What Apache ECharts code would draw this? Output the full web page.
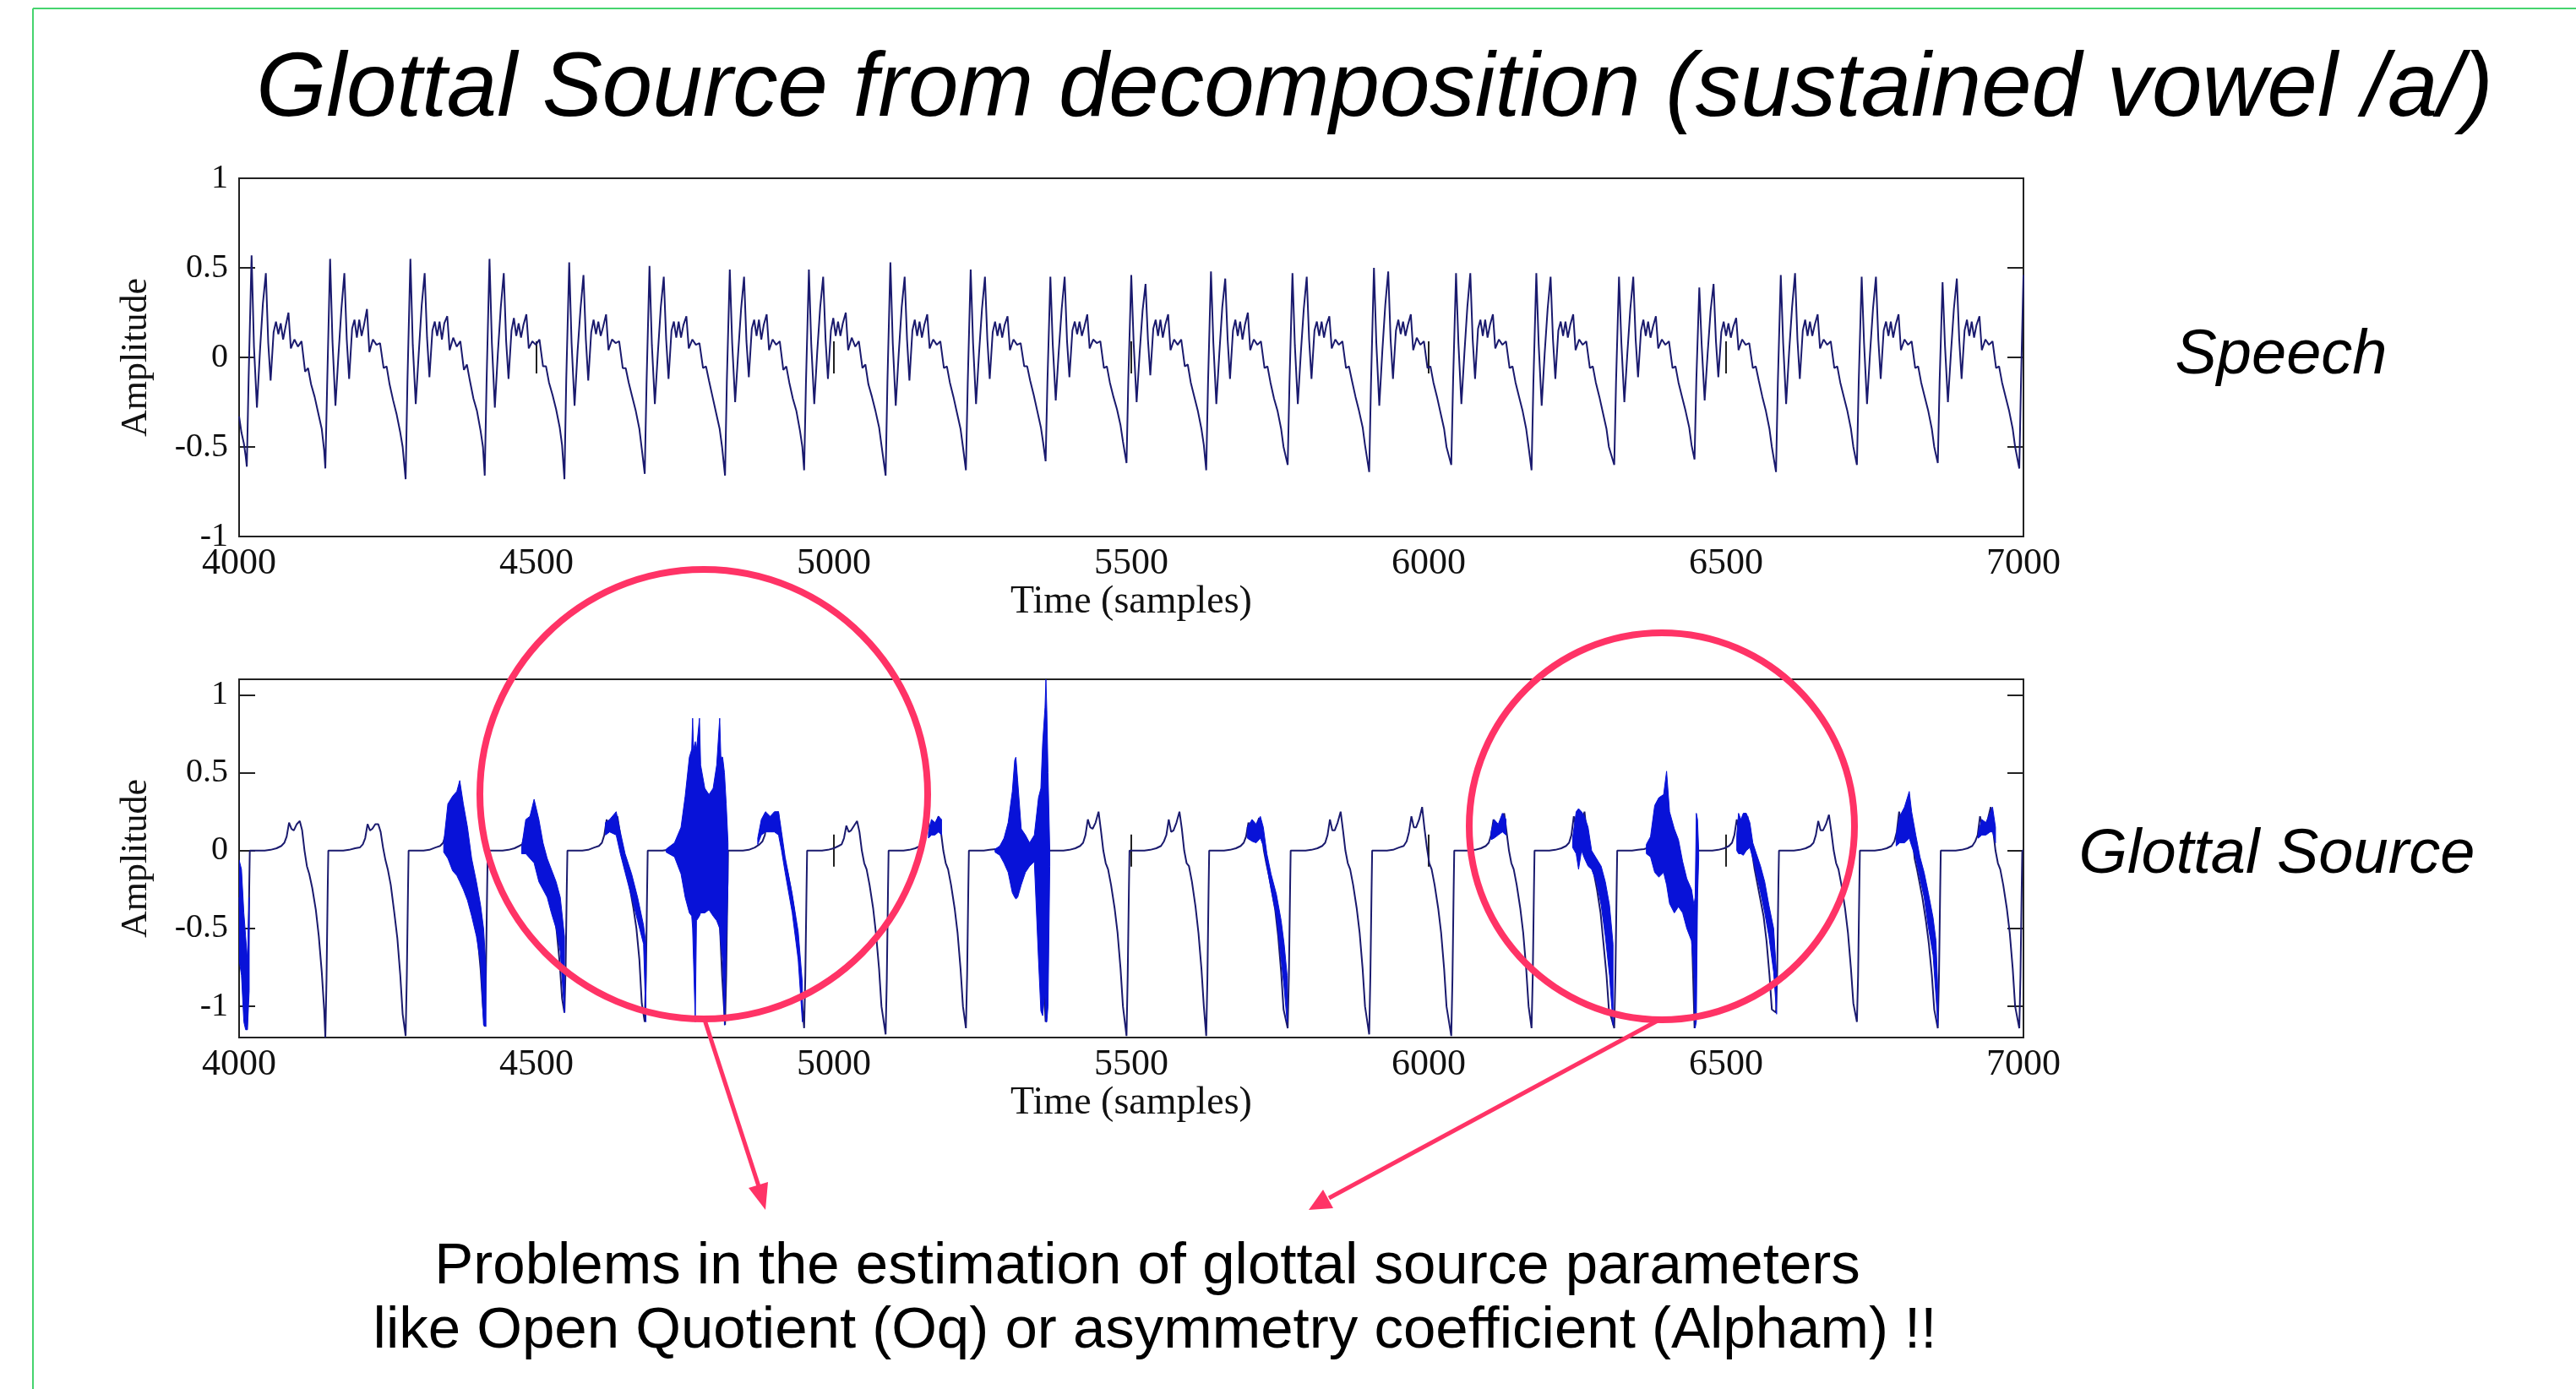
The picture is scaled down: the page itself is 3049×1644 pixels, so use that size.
<!DOCTYPE html>
<html>
<head>
<meta charset="UTF-8">
<title>Glottal Source from decomposition</title>
<script src="https://cdn.jsdelivr.net/npm/echarts@6/dist/echarts.min.js"></script>
<style>
	html, body { margin: 0; padding: 0; background: #fff; }
	#main { width: 3049px; height: 1644px; }
</style>
</head>
<body>
<div id="main"></div>
<script>
	// glottal closure instants (speech minima)
	var gciSamples = [4013,4145,4280,4413,4547,4682,4817,4950,5087,5222,5356,5492,5626,5763,5900,6038,6173,6312,6447,6584,6720,6856];

	// speech: sample offsets after each closure where values were read, one row per cycle
	var speechOffsets = [0,3,8,12,17,22,27,32,36,40,45,49,53,57,61,65,70,74,80,86,92,98,103,108,114,120,126,130];
	var speechRows = [
		[-0.61,-0.12,0.57,0.06,-0.28,0.03,0.3,0.47,0.08,-0.13,0.14,0.2,0.13,0.19,0.1,0.17,0.25,0.05,0.1,0.06,0.09,-0.08,-0.06,-0.15,-0.22,-0.31,-0.4,-0.52],
		[-0.62,-0.16,0.55,0.09,-0.27,0.01,0.27,0.47,0.1,-0.12,0.16,0.21,0.11,0.21,0.12,0.18,0.27,0.03,0.1,0.07,0.08,-0.06,-0.05,-0.15,-0.24,-0.32,-0.42,-0.5],
		[-0.68,-0.14,0.55,0.07,-0.26,0.02,0.29,0.47,0.11,-0.11,0.15,0.2,0.12,0.2,0.1,0.19,0.23,0.04,0.11,0.06,0.09,-0.07,-0.04,-0.13,-0.23,-0.3,-0.41,-0.5],
		[-0.66,-0.15,0.55,0.08,-0.28,0.02,0.28,0.47,0.09,-0.12,0.15,0.22,0.12,0.19,0.11,0.18,0.24,0.05,0.09,0.07,0.1,-0.05,-0.05,-0.14,-0.21,-0.29,-0.39,-0.49],
		[-0.68,-0.13,0.53,0.08,-0.27,0.03,0.27,0.46,0.1,-0.13,0.14,0.21,0.13,0.2,0.12,0.17,0.24,0.04,0.1,0.08,0.09,-0.06,-0.06,-0.14,-0.22,-0.3,-0.4,-0.51],
		[-0.65,-0.15,0.51,0.07,-0.26,0.02,0.28,0.45,0.1,-0.12,0.15,0.2,0.11,0.2,0.11,0.18,0.23,0.05,0.1,0.07,0.08,-0.06,-0.05,-0.13,-0.22,-0.31,-0.4,-0.5],
		[-0.66,-0.14,0.49,0.08,-0.25,0.02,0.27,0.45,0.09,-0.11,0.16,0.21,0.12,0.21,0.1,0.18,0.24,0.04,0.1,0.07,0.09,-0.07,-0.05,-0.14,-0.23,-0.3,-0.41,-0.5],
		[-0.63,-0.15,0.49,0.07,-0.26,0.03,0.28,0.45,0.1,-0.12,0.15,0.22,0.12,0.2,0.12,0.19,0.25,0.04,0.11,0.06,0.09,-0.06,-0.04,-0.15,-0.22,-0.3,-0.39,-0.49],
		[-0.66,-0.14,0.53,0.08,-0.27,0.02,0.28,0.45,0.1,-0.13,0.15,0.21,0.12,0.2,0.11,0.18,0.24,0.05,0.1,0.07,0.09,-0.06,-0.05,-0.14,-0.22,-0.31,-0.4,-0.5],
		[-0.63,-0.15,0.49,0.08,-0.26,0.02,0.27,0.45,0.1,-0.12,0.14,0.2,0.12,0.19,0.11,0.18,0.23,0.04,0.1,0.07,0.08,-0.05,-0.05,-0.13,-0.21,-0.3,-0.39,-0.48],
		[-0.58,-0.14,0.45,0.07,-0.24,0.03,0.27,0.45,0.09,-0.11,0.15,0.2,0.13,0.2,0.12,0.17,0.24,0.05,0.1,0.08,0.09,-0.06,-0.05,-0.14,-0.22,-0.29,-0.38,-0.47],
		[-0.59,-0.13,0.46,0.08,-0.25,0.02,0.26,0.41,0.1,-0.1,0.16,0.21,0.12,0.21,0.11,0.18,0.24,0.04,0.1,0.07,0.1,-0.05,-0.04,-0.14,-0.22,-0.3,-0.4,-0.49],
		[-0.63,-0.15,0.48,0.08,-0.26,0.02,0.28,0.44,0.1,-0.12,0.15,0.21,0.12,0.2,0.1,0.18,0.25,0.04,0.1,0.07,0.09,-0.06,-0.05,-0.14,-0.23,-0.3,-0.4,-0.5],
		[-0.6,-0.14,0.47,0.07,-0.26,0.02,0.27,0.45,0.1,-0.12,0.15,0.2,0.12,0.2,0.11,0.18,0.23,0.05,0.1,0.07,0.09,-0.06,-0.05,-0.13,-0.22,-0.3,-0.39,-0.49],
		[-0.64,-0.15,0.5,0.08,-0.27,0.03,0.29,0.48,0.1,-0.12,0.15,0.21,0.13,0.2,0.12,0.18,0.24,0.04,0.11,0.07,0.09,-0.06,-0.05,-0.14,-0.22,-0.31,-0.4,-0.5],
		[-0.6,-0.14,0.47,0.08,-0.26,0.02,0.28,0.47,0.1,-0.12,0.16,0.21,0.12,0.21,0.11,0.18,0.24,0.05,0.1,0.07,0.09,-0.06,-0.05,-0.14,-0.22,-0.3,-0.4,-0.5],
		[-0.63,-0.15,0.47,0.07,-0.27,0.02,0.27,0.45,0.1,-0.12,0.15,0.2,0.12,0.2,0.11,0.18,0.24,0.04,0.1,0.07,0.09,-0.06,-0.05,-0.14,-0.22,-0.31,-0.4,-0.5],
		[-0.6,-0.14,0.45,0.08,-0.25,0.02,0.27,0.45,0.1,-0.11,0.15,0.21,0.12,0.2,0.11,0.17,0.23,0.05,0.1,0.07,0.09,-0.06,-0.05,-0.14,-0.22,-0.3,-0.39,-0.49],
		[-0.57,-0.13,0.39,0.07,-0.24,0.02,0.26,0.41,0.09,-0.11,0.14,0.2,0.12,0.19,0.11,0.17,0.22,0.04,0.1,0.07,0.08,-0.06,-0.05,-0.13,-0.22,-0.3,-0.4,-0.5],
		[-0.64,-0.15,0.46,0.08,-0.26,0.03,0.28,0.47,0.1,-0.12,0.15,0.21,0.12,0.2,0.12,0.18,0.24,0.05,0.1,0.07,0.09,-0.06,-0.05,-0.14,-0.22,-0.3,-0.4,-0.5],
		[-0.6,-0.14,0.45,0.08,-0.26,0.02,0.27,0.45,0.1,-0.12,0.15,0.2,0.12,0.2,0.11,0.18,0.24,0.04,0.1,0.07,0.09,-0.06,-0.05,-0.14,-0.22,-0.3,-0.4,-0.5],
		[-0.59,-0.14,0.42,0.07,-0.25,0.02,0.27,0.44,0.1,-0.12,0.15,0.21,0.12,0.2,0.11,0.18,0.23,0.04,0.1,0.07,0.09,-0.06,-0.05,-0.14,-0.22,-0.3,-0.4,-0.5]
	];
	var speechHead = [[4000,-0.33],[4004,-0.42],[4008,-0.48],[4011,-0.55]];
	var speechTail = [[6993,-0.62],[6996,-0.12],[7000,0.46]];

	// glottal source: same closures, its own read offsets
	var glotOffsets = [0,2,4,5,30,40,50,58,63,67,71,75,79,84,89,93,97,101,105,110,116,121,126,130];
	var glotRows = [
		[-1.15,-0.8,-0.25,0,0,0.005,0.015,0.03,0.05,0.09,0.18,0.14,0.13,0.17,0.19,0.13,0.0,-0.1,-0.15,-0.24,-0.38,-0.55,-0.78,-1.02],
		[-1.2,-0.82,-0.24,0,0,0.005,0.015,0.02,0.04,0.08,0.17,0.13,0.14,0.17,0.17,0.12,0.02,-0.06,-0.12,-0.22,-0.4,-0.56,-0.8,-1.05],
		[-1.19,-0.8,-0.25,0,0,0.005,0.02,0.03,0.05,0.1,0.2,0.15,0.12,0.18,0.22,0.1,-0.02,-0.1,-0.15,-0.25,-0.38,-0.55,-0.76,-1.0],
		[-1.13,-0.78,-0.25,0,0,0.005,0.015,0.03,0.04,0.1,0.18,0.12,0.12,0.15,0.2,0.1,-0.02,-0.08,-0.15,-0.22,-0.36,-0.52,-0.72,-0.95],
		[-1.04,-0.75,-0.22,0,0,0.005,0.02,0.03,0.05,0.1,0.2,0.14,0.13,0.18,0.22,0.12,0.0,-0.08,-0.13,-0.24,-0.37,-0.5,-0.7,-0.98],
		[-1.1,-0.8,-0.25,0,0,0.005,0.01,0.0,0.02,-0.02,0.03,-0.03,0.05,-0.05,0.04,-0.04,0.0,-0.05,-0.1,-0.15,-0.2,-0.3,-0.45,-0.8],
		[-1.12,-0.8,-0.25,0,0,0.005,0.02,0.04,0.06,0.1,0.22,0.15,0.14,0.18,0.25,0.12,0.0,-0.08,-0.14,-0.24,-0.38,-0.55,-0.76,-1.0],
		[-1.14,-0.8,-0.25,0,0,0.005,0.015,0.03,0.04,0.08,0.16,0.12,0.13,0.16,0.19,0.12,0.0,-0.08,-0.12,-0.22,-0.37,-0.54,-0.76,-1.0],
		[-1.18,-0.82,-0.25,0,0,0.005,0.015,0.03,0.05,0.09,0.2,0.13,0.12,0.17,0.22,0.12,0.0,-0.08,-0.12,-0.22,-0.37,-0.53,-0.76,-1.0],
		[-1.14,-0.8,-0.25,0,0,0.005,0.01,0.0,0.05,-0.05,0.1,-0.1,0.05,-0.05,0.02,-0.02,0.05,-0.1,0.0,0.0,0.0,-0.2,-0.5,-0.8],
		[-1.1,-0.8,-0.25,0,0,0.005,0.015,0.03,0.05,0.1,0.2,0.15,0.14,0.18,0.25,0.13,0.0,-0.08,-0.12,-0.22,-0.37,-0.53,-0.76,-1.0],
		[-1.19,-0.8,-0.25,0,0,0.005,0.015,0.03,0.06,0.1,0.2,0.12,0.13,0.18,0.25,0.14,0.0,-0.08,-0.1,-0.2,-0.36,-0.53,-0.76,-1.0],
		[-1.19,-0.82,-0.25,0,0,0.005,0.015,0.03,0.05,0.09,0.18,0.12,0.12,0.16,0.21,0.12,0.0,-0.08,-0.15,-0.25,-0.38,-0.55,-0.78,-1.02],
		[-1.14,-0.8,-0.25,0,0,0.005,0.015,0.03,0.05,0.1,0.2,0.13,0.13,0.18,0.25,0.13,0.0,-0.08,-0.12,-0.22,-0.37,-0.53,-0.76,-1.0],
		[-1.18,-0.8,-0.25,0,0,0.005,0.02,0.03,0.06,0.12,0.22,0.15,0.15,0.2,0.28,0.14,0.02,-0.08,-0.12,-0.22,-0.37,-0.53,-0.76,-1.0],
		[-1.19,-0.82,-0.25,0,0,0.005,0.015,0.03,0.05,0.1,0.2,0.13,0.14,0.18,0.24,0.12,0.0,-0.08,-0.12,-0.22,-0.37,-0.53,-0.76,-1.0],
		[-1.14,-0.8,-0.25,0,0,0.005,0.015,0.03,0.05,0.1,0.22,0.15,0.14,0.18,0.25,0.1,-0.05,-0.1,-0.15,-0.25,-0.4,-0.6,-0.8,-1.02],
		[-1.14,-0.8,-0.25,0,0,0.005,0.01,0.02,0.03,0.05,0.05,0.08,0.05,0.1,0.05,0.0,-0.05,-0.1,-0.12,-0.15,-0.25,-0.32,-0.38,-0.45],
		[-1.14,-0.8,-0.25,0,0,0.005,0.015,0.03,0.05,0.1,0.2,0.12,0.14,0.18,0.22,0.1,-0.02,-0.12,-0.2,-0.3,-0.42,-0.58,-0.8,-1.02],
		[-1.04,-0.78,-0.22,0,0,0.005,0.015,0.03,0.05,0.1,0.19,0.13,0.13,0.17,0.23,0.12,0.0,-0.08,-0.12,-0.22,-0.37,-0.53,-0.76,-0.98],
		[-1.1,-0.8,-0.25,0,0,0.005,0.015,0.03,0.06,0.12,0.25,0.18,0.2,0.3,0.25,0.1,-0.05,-0.12,-0.2,-0.3,-0.45,-0.6,-0.8,-1.02],
		[-1.14,-0.8,-0.25,0,0,0.005,0.015,0.03,0.06,0.1,0.22,0.15,0.15,0.2,0.28,0.13,0.0,-0.08,-0.12,-0.22,-0.37,-0.53,-0.76,-1.0]
	];
	var glotHead = [[4000,-0.3],[4004,-0.55],[4008,-0.85],[4011,-1.05]];
	var glotTail = [[6993,-1.14],[6995,-0.8],[6997,-0.25],[6998,0],[7000,0]];

	// dense high-frequency bursts in the glottal source: [sample, upper, lower]
	var noiseBands = [
		[[4000,-0.06,-0.7],[4004,-0.12,-0.8],[4008,-0.4,-1.1],[4011,-0.55,-1.15],[4014,-0.7,-1.15],[4017,-0.3,-0.9]],
		[[4344,0.05,-0.01],[4351,0.3,-0.05],[4359,0.35,-0.13],[4366,0.38,-0.16],[4371,0.45,-0.2],[4377,0.3,-0.25],[4384,0.15,-0.32],[4391,-0.05,-0.42],[4399,-0.2,-0.55],[4406,-0.35,-0.72],[4411,-0.5,-1.12],[4415,-0.75,-1.13]],
		[[4475,0.02,-0.02],[4482,0.2,-0.02],[4489,0.22,-0.05],[4496,0.33,-0.08],[4504,0.2,-0.2],[4511,0.05,-0.25],[4518,-0.05,-0.3],[4525,-0.12,-0.4],[4533,-0.2,-0.5],[4540,-0.3,-0.65],[4547,-0.55,-1.04]],
		[[4616,0.18,0.1],[4623,0.2,0.12],[4634,0.25,0.1],[4641,0.12,-0.02],[4649,-0.02,-0.14],[4660,-0.15,-0.3],[4670,-0.3,-0.45],[4680,-0.48,-0.6],[4684,-0.6,-1.1]],
		[[4718,0.01,-0.01],[4732,0.05,-0.04],[4743,0.15,-0.15],[4750,0.35,-0.3],[4757,0.6,-0.4],[4761,0.65,-0.42],[4762.5,0.85,-0.5],[4764,0.65,-0.7],[4767,0.7,-1.1],[4769,0.65,-0.45],[4774,0.85,-0.42],[4776,0.55,-0.4],[4783,0.4,-0.4],[4790,0.36,-0.38],[4797,0.4,-0.42],[4803,0.55,-0.45],[4808,0.85,-0.5],[4810,0.6,-0.6],[4813,0.6,-0.7],[4816,0.5,-1.12],[4819,0.3,-0.6],[4822,0.05,-0.2]],
		[[4872,0.08,0.04],[4878,0.2,0.1],[4885,0.25,0.12],[4893,0.22,0.12],[4900,0.25,0.12],[4907,0.25,0.1],[4912,0.12,0.0],[4918,-0.04,-0.14],[4930,-0.28,-0.4],[4940,-0.52,-0.7],[4947,-0.85,-1.1]],
		[[5159,0.12,0.08],[5164,0.2,0.1],[5170,0.18,0.1],[5176,0.22,0.12],[5181,0.2,0.1]],
		[[5271,0.01,-0.01],[5279,0.03,-0.03],[5286,0.08,-0.08],[5293,0.18,-0.14],[5300,0.38,-0.27],[5304,0.58,-0.3],[5306,0.6,-0.31],[5309,0.45,-0.3],[5315,0.14,-0.22],[5322,0.1,-0.14],[5329,0.05,-0.1],[5337,0.1,-0.07],[5344,0.34,-0.7],[5348,0.4,-1.03],[5351,0.69,-1.06],[5355,0.92,-0.9],[5356.5,1.1,-1.1],[5358,0.9,-1.1],[5360,0.5,-1.0],[5363,0.0,-0.1]],
		[[5695,0.15,0.08],[5703,0.2,0.06],[5710,0.17,0.05],[5717,0.22,0.08],[5722,0.15,0.03],[5728,-0.02,-0.1],[5735,-0.15,-0.25],[5744,-0.28,-0.42],[5752,-0.45,-0.7],[5757,-0.6,-0.88],[5762,-0.8,-1.1]],
		[[6105,0.12,0.07],[6110,0.2,0.08],[6117,0.17,0.1],[6124,0.24,0.12],[6130,0.2,0.1]],
		[[6242,0.08,0.02],[6248,0.25,-0.02],[6252,0.27,-0.12],[6257,0.25,0.0],[6262,0.22,-0.05],[6268,0.15,-0.1],[6274,0.0,-0.12],[6282,-0.05,-0.2],[6290,-0.1,-0.35],[6297,-0.2,-0.55],[6304,-0.35,-0.8],[6310,-0.6,-1.12]],
		[[6366,0.04,-0.02],[6373,0.09,-0.04],[6380,0.29,-0.14],[6387,0.34,-0.17],[6395,0.36,-0.14],[6400,0.51,-0.22],[6405,0.25,-0.34],[6413,0.14,-0.4],[6420,0.07,-0.36],[6427,-0.07,-0.4],[6434,-0.18,-0.5],[6442,-0.25,-0.58],[6446,-0.35,-0.8],[6448,-0.3,-1.14],[6450,0.24,-1.1],[6452,0.2,-0.3],[6454,0.0,-0.05]],
		[[6518,0.1,0.0],[6521,0.24,-0.02],[6525,0.2,-0.02],[6529,0.24,-0.03],[6534,0.24,0.0],[6540,0.18,0.02],[6545,0.05,-0.05],[6551,-0.02,-0.15],[6558,-0.1,-0.27],[6565,-0.2,-0.4],[6572,-0.35,-0.55],[6580,-0.5,-0.78],[6585,-0.8,-1.05]],
		[[6786,0.1,0.03],[6792,0.22,0.05],[6800,0.28,0.05],[6808,0.38,0.08],[6812,0.25,0.03],[6819,0.1,-0.05],[6826,-0.04,-0.18],[6833,-0.14,-0.3],[6840,-0.27,-0.49],[6848,-0.43,-0.67],[6853,-0.58,-0.94],[6856,-0.9,-1.12]],
		[[6924,0.12,0.08],[6930,0.2,0.1],[6937,0.18,0.1],[6944,0.24,0.12],[6948,0.28,0.12],[6953,0.15,0.05]]
	];

	var ampTicks = [-1, -0.5, 0, 0.5, 1];

	function buildWave(head, offsets, rows, tail) {
		var pts = head.slice();
		for (var c = 0; c < rows.length; c++) {
			for (var i = 0; i < offsets.length; i++) {
				pts.push([gciSamples[c] + offsets[i], rows[c][i]]);
			}
		}
		return pts.concat(tail);
	}

	var speechData = buildWave(speechHead, speechOffsets, speechRows, speechTail);
	var glotData = buildWave(glotHead, glotOffsets, glotRows, glotTail);

	var serif = '"Liberation Serif", "Times New Roman", serif';
	var sans = '"Liberation Sans", Arial, sans-serif';
	var ink = '#111';
	var waveColor = '#1a1a6e';
	var burstColor = '#0812d8';
	var red = '#ff3366';

	function plain(v) { return String(v); }

	function tickStyle() {
		return { inside: true, length: 19, lineStyle: { color: '#222', width: 2 } };
	}

	function xAxisPair(grid) {
		return [{
			gridIndex: grid, type: 'value', min: 4000, max: 7000, interval: 500, position: 'bottom',
			axisLine: { show: false }, splitLine: { show: false }, axisTick: tickStyle(),
			axisLabel: { fontFamily: serif, fontSize: 44, color: ink, margin: 10, formatter: plain },
			name: 'Time (samples)', nameLocation: 'middle', nameGap: 55,
			nameTextStyle: { fontFamily: serif, fontSize: 46, color: ink }
		}, {
			gridIndex: grid, type: 'value', min: 4000, max: 7000, interval: 500, position: 'top',
			axisLine: { show: false }, splitLine: { show: false }, axisTick: tickStyle(),
			axisLabel: { show: false }
		}];
	}

	function yAxisPair(grid, min, max) {
		var tk = tickStyle();
		tk.customValues = ampTicks;
		var tk2 = tickStyle();
		tk2.customValues = ampTicks;
		return [{
			gridIndex: grid, type: 'value', min: min, max: max, position: 'left',
			axisLine: { show: false }, splitLine: { show: false }, axisTick: tk,
			axisLabel: { customValues: ampTicks, fontFamily: serif, fontSize: 40, color: ink, margin: 13, formatter: plain },
			name: 'Amplitude', nameLocation: 'middle', nameRotate: 90, nameGap: 100,
			nameTextStyle: { fontFamily: serif, fontSize: 44, color: ink }
		}, {
			gridIndex: grid, type: 'value', min: min, max: max, position: 'right',
			axisLine: { show: false }, splitLine: { show: false }, axisTick: tk2,
			axisLabel: { show: false }
		}];
	}

	function renderBand(params, api) {
		var band = noiseBands[params.dataIndex];
		var pts = [];
		for (var i = 0; i < band.length; i++) pts.push(api.coord([band[i][0], band[i][1]]));
		for (var j = band.length - 1; j >= 0; j--) pts.push(api.coord([band[j][0], band[j][2]]));
		return {
			type: 'polygon',
			shape: { points: pts },
			style: { fill: burstColor, stroke: burstColor, lineWidth: 1 }
		};
	}

	var myChart = echarts.init(document.getElementById('main'));

	myChart.setOption({
		animation: false,
		backgroundColor: '#fff',
		grid: [
			{ left: 283, top: 211, width: 2112, height: 424, show: true, borderColor: '#222', borderWidth: 2 },
			{ left: 283, top: 804, width: 2112, height: 424, show: true, borderColor: '#222', borderWidth: 2 }
		],
		xAxis: xAxisPair(0).concat(xAxisPair(1)),
		yAxis: yAxisPair(0, -1, 1).concat(yAxisPair(1, -1.2, 1.1)),
		series: [
			{
				name: 'Speech', type: 'line', xAxisIndex: 0, yAxisIndex: 0,
				data: speechData, symbol: 'none', lineStyle: { color: waveColor, width: 2 }, z: 2
			},
			{
				name: 'Glottal Source', type: 'line', xAxisIndex: 2, yAxisIndex: 2,
				data: glotData, symbol: 'none', lineStyle: { color: waveColor, width: 2 }, z: 2
			},
			{
				name: 'bursts', type: 'custom', xAxisIndex: 2, yAxisIndex: 2, clip: true, z: 3,
				data: noiseBands.map(function (b) { return [b[0][0], b[0][1]]; }),
				encode: { x: 0, y: 1 },
				renderItem: renderBand
			}
		],
		graphic: [
			// slide frame
			{ type: 'line', shape: { x1: 39, y1: 10, x2: 3049, y2: 10 }, style: { stroke: '#46d46e', lineWidth: 2 } },
			{ type: 'line', shape: { x1: 39, y1: 10, x2: 39, y2: 1644 }, style: { stroke: '#46d46e', lineWidth: 2 } },
			// texts
			{ type: 'text', x: 1627, y: 107, style: { text: 'Glottal Source from decomposition (sustained vowel /a/)', font: 'italic 106.8px ' + sans, fill: '#000', align: 'center', verticalAlign: 'middle' } },
			{ type: 'text', x: 2700, y: 421, style: { text: 'Speech', font: 'italic 74px ' + sans, fill: '#000', align: 'center', verticalAlign: 'middle' } },
			{ type: 'text', x: 2695, y: 1012, style: { text: 'Glottal Source', font: 'italic 74px ' + sans, fill: '#000', align: 'center', verticalAlign: 'middle' } },
			{ type: 'text', x: 1358, y: 1500, style: { text: 'Problems in the estimation of glottal source parameters', font: '69px ' + sans, fill: '#000', align: 'center', verticalAlign: 'middle' } },
			{ type: 'text', x: 1367, y: 1576, style: { text: 'like Open Quotient (Oq) or asymmetry coefficient (Alpham) !!', font: '69px ' + sans, fill: '#000', align: 'center', verticalAlign: 'middle' } },
			// highlight circles and arrows
			{ type: 'ellipse', z: 100, shape: { cx: 833, cy: 940, rx: 265, ry: 266 }, style: { fill: null, stroke: red, lineWidth: 8 } },
			{ type: 'ellipse', z: 100, shape: { cx: 1967, cy: 978, rx: 228, ry: 229 }, style: { fill: null, stroke: red, lineWidth: 8 } },
			{ type: 'line', z: 100, shape: { x1: 834, y1: 1207, x2: 898, y2: 1404 }, style: { stroke: red, lineWidth: 5 } },
			{ type: 'polygon', z: 100, shape: { points: [[906, 1432], [886, 1406], [909, 1399]] }, style: { fill: red } },
			{ type: 'line', z: 100, shape: { x1: 1964, y1: 1207, x2: 1573, y2: 1418 }, style: { stroke: red, lineWidth: 5 } },
			{ type: 'polygon', z: 100, shape: { points: [[1549, 1432], [1566, 1408], [1578, 1430]] }, style: { fill: red } }
		]
	});
</script>
</body>
</html>
